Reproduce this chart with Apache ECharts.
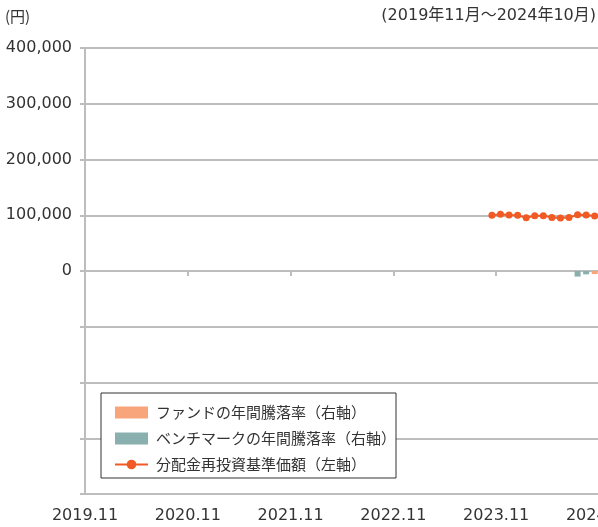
<!DOCTYPE html>
<html><head><meta charset="utf-8">
<script src="https://cdn.jsdelivr.net/npm/echarts@6/dist/echarts.min.js"></script>
<style>html,body{margin:0;padding:0;background:#fff}#c{width:598px;height:527px}</style>
</head><body><div id="c"></div>
<script>
// months of the price line (YYYY.MM)
const lineMonths = ["2023.10","2023.11","2023.12","2024.01","2024.02","2024.03","2024.04","2024.05","2024.06","2024.07","2024.08","2024.09","2024.10"];
const navValues = [100000,102000,100300,99800,95600,99000,99300,96000,95200,95800,100800,100500,98600];
// annual return bars (%), right axis
const fundMonths = ["2024.10"];
const fundValues = [-0.55];
const benchMonths = ["2024.08","2024.09"];
const benchValues = [-1.0,-0.6];
const yearTickLabels = ["2019.11","2020.11","2021.11","2022.11","2023.11","2024.11"];
const leftTicks = [0,100000,200000,300000,400000];
const legendNames = ["ファンドの年間騰落率（右軸）","ベンチマークの年間騰落率（右軸）","分配金再投資基準価額（左軸）"];
const unitLabel = "(円)";
const periodLabel = "(2019年11月〜2024年10月)";

const START_Y = 2019, START_M = 11;
function mIdx(s){const [y,m]=s.split('.').map(Number);return (y-START_Y)*12+(m-START_M)+0.5;}
const FONT = "'Noto Sans CJK JP','Noto Sans',sans-serif";
const NUMFONT = "'DejaVu Sans','Noto Sans CJK JP',sans-serif";
const grid = '#bdbdbd';

const chart = echarts.init(document.getElementById('c'));
chart.setOption({
  animation:false,
  textStyle:{fontFamily:FONT},
  grid:{left:85,right:-1,top:48,bottom:33,containLabel:false,outerBoundsMode:'none'},
  xAxis:[
    {type:'value',min:0,max:60,interval:12,position:'bottom',
     axisLine:{onZero:true,lineStyle:{color:grid,width:2}},
     axisTick:{show:true,length:5,lineStyle:{color:grid,width:2}},
     axisLabel:{show:false},splitLine:{show:false}},
    {type:'value',min:0,max:60,interval:12,position:'bottom',
     axisLine:{show:false,onZero:false},axisTick:{show:false},splitLine:{show:false},
     axisLabel:{show:true,margin:14,fontSize:16,color:'#333',fontFamily:NUMFONT,
       showMaxLabel:true,hideOverlap:false,
       formatter:v=>yearTickLabels[Math.round(v/12)]||''}}
  ],
  yAxis:[
    {type:'value',min:-400000,max:400000,interval:100000,position:'left',
     axisLine:{show:true,lineStyle:{color:grid,width:2}},
     axisTick:{show:true,length:5,lineStyle:{color:grid,width:2}},
     splitLine:{show:true,lineStyle:{color:grid,width:2}},
     axisLabel:{margin:13,fontSize:16,color:'#333',fontFamily:NUMFONT,
       formatter:v=>leftTicks.includes(v)?v.toLocaleString('en-US'):''}},
    {type:'value',min:-40,max:40,interval:10,position:'right',show:false,
     splitLine:{show:false}}
  ],
  legend:{
    orient:'vertical',left:101,top:393,
    backgroundColor:'#fff',borderColor:'#333',borderWidth:1,
    padding:[12,0,6,13],itemGap:11,itemWidth:33,itemHeight:12,
    textStyle:{fontSize:15,color:'#333',fontFamily:FONT,padding:[0,0,0,3]},
    data:[
      {name:legendNames[0],icon:'rect'},
      {name:legendNames[1],icon:'rect'},
      {name:legendNames[2]}
    ]
  },
  graphic:[
    {type:'text',left:5,top:9,style:{text:unitLabel,font:'15px '+FONT,fill:'#333'}},
    {type:'text',right:2,top:8,style:{text:periodLabel,font:'16px '+NUMFONT,fill:'#333'}}
  ],
  series:[
    {name:legendNames[0],type:'bar',xAxisIndex:0,yAxisIndex:1,barWidth:6,barGap:'-100%',z:3,
     itemStyle:{color:'#f8a57c'},
     data:fundMonths.map((m,i)=>[mIdx(m),fundValues[i]])},
    {name:legendNames[1],type:'bar',xAxisIndex:0,yAxisIndex:1,barWidth:6,barGap:'-100%',z:2,
     itemStyle:{color:'#8aafaf'},
     data:benchMonths.map((m,i)=>[mIdx(m),benchValues[i]])},
    {name:legendNames[2],type:'line',xAxisIndex:0,yAxisIndex:0,symbol:'circle',symbolSize:7,z:5,
     lineStyle:{color:'#f15a24',width:2},itemStyle:{color:'#f15a24'},
     data:lineMonths.map((m,i)=>[mIdx(m),navValues[i]])}
  ]
});
</script></body></html>
